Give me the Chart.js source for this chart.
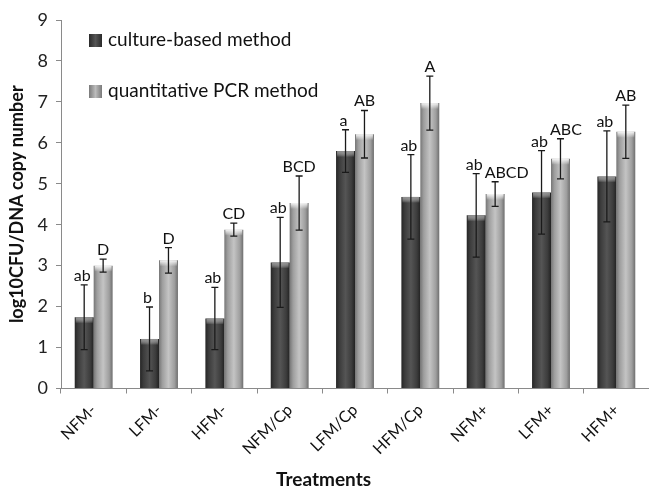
<!DOCTYPE html>
<html>
<head>
<meta charset="utf-8">
<script src="https://cdn.jsdelivr.net/npm/chart.js@4/dist/chart.umd.min.js"></script>
<style>
  html, body { margin: 0; padding: 0; background: #fff; }
  #wrap { position: relative; width: 649px; height: 488px; font-family: Lato, "Open Sans", sans-serif; }
  .leg { position: absolute; left: 89px; font-size: 19px; color: #111; white-space: nowrap; }
  .leg i { display: inline-block; width: 13px; height: 13px; margin-right: 6px; vertical-align: -1px; }
  #xtitle { position: absolute; left: 276px; top: 467px; font-size: 19px; font-weight: bold; color: #111; }
</style>
</head>
<body>
<div id="wrap">
  <canvas id="myChart" width="649" height="488"></canvas>
  <div class="leg" style="top:27px"><i style="background:linear-gradient(90deg,#2a2a2a,#555,#2a2a2a)"></i>culture-based method</div>
  <div class="leg" style="top:78px"><i style="background:linear-gradient(90deg,#7a7a7a,#bcbcbc,#7a7a7a)"></i>quantitative PCR method</div>
  <div id="xtitle">Treatments</div>
</div>
<script>
const treatments = ["NFM-", "LFM-", "HFM-", "NFM/Cp", "LFM/Cp", "HFM/Cp", "NFM+", "LFM+", "HFM+"];
const cultureValues = [1.74, 1.21, 1.71, 3.08, 5.80, 4.68, 4.23, 4.79, 5.18];
const cultureErrors = [0.79, 0.78, 0.76, 1.10, 0.52, 1.03, 1.02, 1.02, 1.11];
const cultureLetters = ["ab", "b", "ab", "ab", "a", "ab", "ab", "ab", "ab"];
const qpcrValues = [3.00, 3.13, 3.88, 4.53, 6.21, 6.97, 4.75, 5.61, 6.27];
const qpcrErrors = [0.16, 0.31, 0.16, 0.66, 0.58, 0.66, 0.30, 0.49, 0.65];
const qpcrLetters = ["D", "D", "CD", "BCD", "AB", "A", "ABCD", "ABC", "AB"];
const yTicks = [0, 1, 2, 3, 4, 5, 6, 7, 8, 9];

const errors = [cultureErrors, qpcrErrors];
const letters = [cultureLetters, qpcrLetters];
const stops = [
  ["#262626", "#3c3c3c", "#555555", "#3c3c3c", "#222"],
  ["#767676", "#9e9e9e", "#c4c4c4", "#9e9e9e", "#6e6e6e"]
];
const catPct = 0.58;

// horizontal shading for each bar, worked out from the x scale
function barFill(c) {
  const chart = c.chart;
  const xs = chart.scales.x;
  const s = stops[c.datasetIndex];
  if (!xs || !chart.chartArea || c.dataIndex === undefined) return s[2];
  const catW = xs.width / treatments.length;
  const w = catW * catPct / 2;
  const left = xs.getPixelForValue(c.dataIndex) - w + c.datasetIndex * w;
  const g = chart.ctx.createLinearGradient(left, 0, left + w, 0);
  g.addColorStop(0, s[0]);
  g.addColorStop(0.18, s[1]);
  g.addColorStop(0.5, s[2]);
  g.addColorStop(0.82, s[3]);
  g.addColorStop(1, s[4]);
  return g;
}

// top caps, error bars and letters
const barDecor = {
  id: "barDecor",
  afterDatasetsDraw(chart) {
    const ctx = chart.ctx;
    const y = chart.scales.y;
    ctx.save();
    ctx.font = "16px Lato";
    ctx.textBaseline = "alphabetic";
    ctx.textAlign = "left";
    const darkRight = [];
    const darkTop = [];
    chart.data.datasets.forEach((ds, i) => {
      chart.getDatasetMeta(i).data.forEach((el, j) => {
        const left = el.x - el.width / 2;
        const cap = ctx.createLinearGradient(0, el.y, 0, el.y + 6);
        cap.addColorStop(0, i === 0 ? "rgba(150,150,150,0.9)" : "rgba(248,248,248,0.95)");
        cap.addColorStop(1, "rgba(255,255,255,0)");
        ctx.fillStyle = cap;
        ctx.fillRect(left + 1, el.y, el.width - 2, 6);

        const v = ds.data[j];
        const e = errors[i][j];
        const top = y.getPixelForValue(v + e);
        const bot = y.getPixelForValue(v - e);
        ctx.strokeStyle = "#1a1a1a";
        ctx.lineWidth = 1.3;
        ctx.beginPath();
        ctx.moveTo(el.x, top); ctx.lineTo(el.x, bot);
        ctx.moveTo(el.x - 3.5, top); ctx.lineTo(el.x + 3.5, top);
        ctx.moveTo(el.x - 3.5, bot); ctx.lineTo(el.x + 3.5, bot);
        ctx.stroke();

        const txt = letters[i][j];
        const tw = ctx.measureText(txt).width;
        let tx;
        if (i === 0) {
          tx = el.x - 2 - tw / 2;
          darkRight[j] = tx + tw;
          darkTop[j] = top;
        } else {
          tx = el.x - tw / 2;
          if (Math.abs(darkTop[j] - top) < 16) tx = Math.max(tx, darkRight[j] + 2);
        }
        ctx.fillStyle = "#111";
        ctx.fillText(txt, tx, top - 4);
      });
    });
    ctx.restore();
  }
};

const ctx = document.getElementById("myChart").getContext("2d");
new Chart(ctx, {
  type: "bar",
  data: {
    labels: treatments,
    datasets: [
      { label: "culture-based method", data: cultureValues, backgroundColor: barFill },
      { label: "quantitative PCR method", data: qpcrValues, backgroundColor: barFill }
    ]
  },
  options: {
    responsive: false,
    animation: false,
    devicePixelRatio: 1,
    categoryPercentage: catPct,
    barPercentage: 1.0,
    layout: { padding: { top: 20, right: 0, left: 0, bottom: 0 } },
    plugins: { legend: { display: false }, tooltip: { enabled: false } },
    scales: {
      x: {
        grid: { drawOnChartArea: false, drawTicks: true, tickLength: 5, offset: true, color: "#8a8a8a" },
        border: { display: true, color: "#8a8a8a" },
        ticks: { autoSkip: false, minRotation: 45, maxRotation: 45, color: "#111", font: { family: "Lato", size: 16 }, padding: 7 },
        afterFit(scale) { scale.height = 99.5; }
      },
      y: {
        min: 0,
        max: 9,
        afterBuildTicks(scale) { scale.ticks = yTicks.map((v) => ({ value: v })); },
        grid: { drawOnChartArea: false, drawTicks: true, tickLength: 5, color: "#8a8a8a" },
        border: { display: true, color: "#8a8a8a" },
        ticks: { color: "#222", font: { family: "Lato", size: 18 }, padding: 8 },
        title: { display: true, text: "log10CFU/DNA copy number", color: "#111", font: { family: "Lato", size: 18, weight: "bold" }, padding: { top: 6, bottom: 0 } },
        afterFit(scale) { scale.width = 61; }
      }
    }
  },
  plugins: [barDecor]
});
</script>
</body>
</html>
